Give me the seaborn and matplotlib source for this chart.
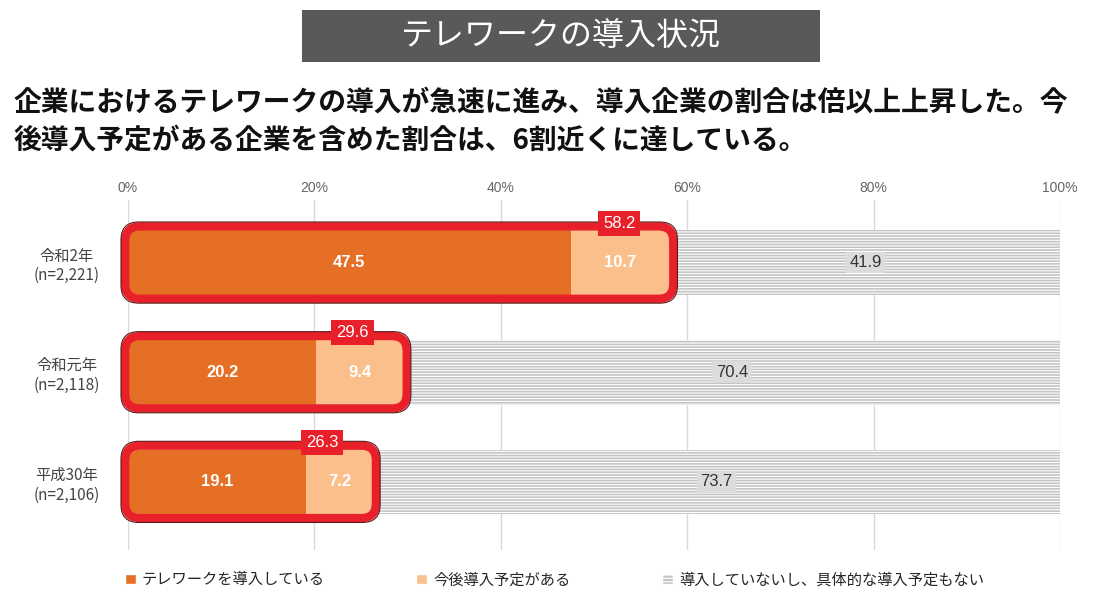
import matplotlib
matplotlib.use("Agg")
import matplotlib.pyplot as plt
from matplotlib.patches import FancyBboxPatch, Rectangle
import seaborn as sns
import pandas as pd

years = ["令和2年\n(n=2,221)", "令和元年\n(n=2,118)", "平成30年\n(n=2,106)"]
introduced = [47.5, 20.2, 19.1]
planned = [10.7, 9.4, 7.2]
none_planned = [41.9, 70.4, 73.7]
totals = ["58.2", "29.6", "26.3"]
series_names = ["テレワークを導入している", "今後導入予定がある", "導入していないし、具体的な導入予定もない"]

ORANGE = "#e56f24"
LIGHT = "#fbbf8c"
GRAY = "#c4c4c4"
RED = "#e8202a"

sns.set_theme(style="white")
plt.rcParams['font.family'] = ['Noto Sans CJK JP', 'DejaVu Sans']
plt.rcParams['hatch.color'] = "#999999"
plt.rcParams['hatch.linewidth'] = 0.8

df = pd.DataFrame({"year": years, "a": introduced, "b": planned, "c": none_planned})
df["ab"] = df["a"] + df["b"]
df["abc"] = df["ab"] + df["c"]

fig = plt.figure(figsize=(11.09, 5.99), dpi=100)
ax = fig.add_axes([0.1154, 0.082, 0.8405, 0.584])

sns.barplot(data=df, x="abc", y="year", color=GRAY, hatch="------", width=0.59,
            saturation=1, ax=ax, linewidth=0)
sns.barplot(data=df, x="ab", y="year", color=LIGHT, width=0.59, saturation=1, ax=ax,
            linewidth=0)
sns.barplot(data=df, x="a", y="year", color=ORANGE, width=0.59, saturation=1, ax=ax,
            linewidth=0)

for i in range(len(years)):
    ab = df["ab"][i]
    box = FancyBboxPatch((-0.3, i - 0.33), ab + 0.6, 0.66,
                         boxstyle="round,pad=0,rounding_size=1.6", mutation_aspect=0.085,
                         facecolor="none", edgecolor=RED, linewidth=6, zorder=5, clip_on=False)
    ax.add_patch(box)
    box2 = FancyBboxPatch((-0.75, i - 0.37), ab + 1.5, 0.74,
                          boxstyle="round,pad=0,rounding_size=1.9", mutation_aspect=0.085,
                          facecolor="none", edgecolor="#5a1a1a", linewidth=0.8, zorder=6,
                          clip_on=False)
    ax.add_patch(box2)
    ax.text(df["a"][i] / 2, i, f"{introduced[i]}", ha="center", va="center",
            color="white", fontsize=12, fontweight="bold", family="Liberation Sans", zorder=7)
    ax.text(df["a"][i] + planned[i] / 2, i, f"{planned[i]}", ha="center", va="center",
            color="white", fontsize=12, fontweight="bold", family="Liberation Sans", zorder=7)
    ax.text(ab + none_planned[i] / 2, i, f"{none_planned[i]}", ha="center", va="center",
            color="#333333", fontsize=12, family="Liberation Sans", zorder=7,
            bbox=dict(boxstyle="square,pad=0.2", facecolor="#dcdcdc", edgecolor="none"))
    ax.text(ab - 5.5, i - 0.36, totals[i], ha="center", va="center", color="white",
            fontsize=12, family="Liberation Sans", zorder=8,
            bbox=dict(boxstyle="square,pad=0.3", facecolor=RED, edgecolor="none"))

ax.set_xlim(0, 100)
ax.set_ylim(2.62, -0.57)
ax.set_xticks(range(0, 101, 20))
ax.set_xticklabels([f"{t}%" for t in range(0, 101, 20)], color="#666666", fontsize=10,
                   family="Liberation Sans")
ax.xaxis.tick_top()
ax.tick_params(axis="x", length=0, pad=4)
ax.grid(axis="x", color="#d9d9d9", linewidth=1)
ax.set_axisbelow(True)
for s in ax.spines.values():
    s.set_visible(False)
ax.set_xlabel("")
ax.set_ylabel("")
ax.tick_params(axis="y", length=0, pad=14)
for lbl in ax.get_yticklabels():
    lbl.set_fontsize(11)
    lbl.set_color("#444444")
    lbl.set_ha("center")
    lbl.set_x(-0.045)

# legend
handles = [Rectangle((0, 0), 1, 1, facecolor=ORANGE),
           Rectangle((0, 0), 1, 1, facecolor=LIGHT),
           Rectangle((0, 0), 1, 1, facecolor=GRAY, hatch="-----")]
fig.legend(handles, series_names, loc="center", bbox_to_anchor=(0.5, 0.032), ncol=3,
           frameon=False, fontsize=11, handlelength=0.7, handleheight=0.7,
           columnspacing=6, handletextpad=0.4)

# title
fig.patches.append(Rectangle((0.272, 0.897), 0.467, 0.087, transform=fig.transFigure,
                             facecolor="#595959", edgecolor="none"))
fig.text(0.5055, 0.94, "テレワークの導入状況", ha="center", va="center", color="white",
         fontsize=23)
fig.text(0.012, 0.827, "企業におけるテレワークの導入が急速に進み、導入企業の割合は倍以上上昇した。今",
         ha="left", va="center", fontsize=20, fontweight="bold", color="#111111")
fig.text(0.012, 0.765, "後導入予定がある企業を含めた割合は、6割近くに達している。",
         ha="left", va="center", fontsize=20, fontweight="bold", color="#111111")

fig.savefig("out.png", dpi=100)
